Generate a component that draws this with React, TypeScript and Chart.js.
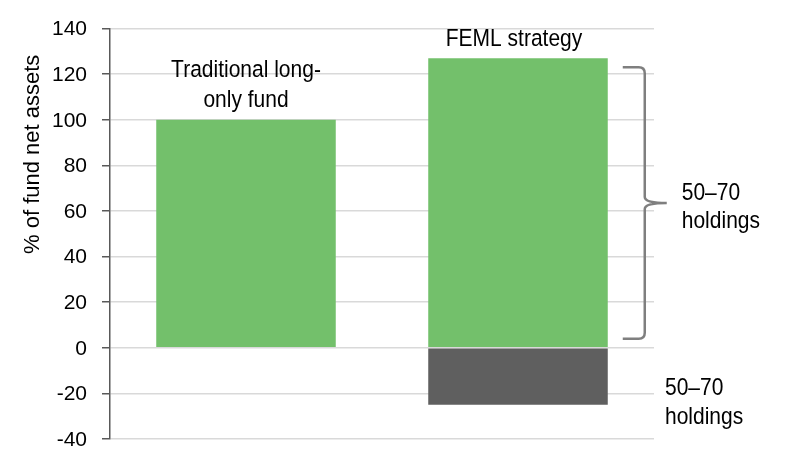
import React, { useEffect, useRef } from 'react';
import { Chart, registerables } from 'chart.js';

Chart.register(...registerables);

// ---- data ----
const categories = ['Traditional long-only fund', 'FEML strategy'];
const categoryLabelLines = [['Traditional long-', 'only fund'], ['FEML strategy']];
const longPositions = [100, 127];
const shortPositions: (number | null)[] = [null, -25];
const yMin = -40;
const yMax = 140;
const yStep = 20;
const axisTitle = '% of fund net assets';
const longNote = ['50–70', 'holdings'];
const shortNote = ['50–70', 'holdings'];
const braceRange = [4, 123];
const longNoteValue = 61.5;
const shortNoteValue = -24;

const FONT = '"Liberation Sans", Arial, sans-serif';
const STRETCH = 1.15;

function stretchedText(ctx: CanvasRenderingContext2D, text: string, x: number, y: number, align: CanvasTextAlign, sy = STRETCH) {
  ctx.save();
  ctx.translate(x, y);
  ctx.scale(1, sy);
  ctx.textAlign = align;
  ctx.textBaseline = 'middle';
  ctx.fillText(text, 0, 0);
  ctx.restore();
}

const annotations = {
  id: 'annotations',
  afterDraw(chart: any) {
    const ctx: CanvasRenderingContext2D = chart.ctx;
    const y = chart.scales.y;
    const area = chart.chartArea;
    ctx.save();
    ctx.fillStyle = '#000';
    ctx.font = `21px ${FONT}`;

    // y tick labels (drawn from the scale's own ticks)
    y.ticks.forEach((t: any) => {
      stretchedText(ctx, String(t.value), area.left - 23, y.getPixelForValue(t.value) + 1, 'right', 1);
    });

    // axis title
    ctx.save();
    ctx.font = `22px ${FONT}`;
    ctx.translate(33, (y.getPixelForValue(yMax) + y.getPixelForValue(yMin)) / 2 - 79.5);
    ctx.rotate(-Math.PI / 2);
    ctx.textAlign = 'center';
    ctx.textBaseline = 'middle';
    ctx.fillText(axisTitle, 0, 0);
    ctx.restore();

    // category labels above bars
    const meta0 = chart.getDatasetMeta(0);
    meta0.data.forEach((bar: any, i: number) => {
      const lines = categoryLabelLines[i];
      const top = bar.y;
      const lh = 30;
      lines.forEach((ln, j) => {
        const cy = top - 19 - (lines.length - 1 - j) * lh;
        stretchedText(ctx, ln, bar.x - (i === 1 ? 4 : 0), cy, 'center');
      });
    });

    // brace
    const bar2 = meta0.data[1];
    const x0 = bar2.x + bar2.width / 2 + 15;
    const xs = x0 + 22;
    const xt = xs + 22;
    const yt = y.getPixelForValue(braceRange[1]);
    const yb = y.getPixelForValue(braceRange[0]);
    const ym = (yt + yb) / 2;
    const r = 6;
    ctx.strokeStyle = '#7f7f7f';
    ctx.lineWidth = 2.5;
    ctx.beginPath();
    ctx.moveTo(x0, yt);
    ctx.lineTo(xs - r, yt);
    ctx.quadraticCurveTo(xs, yt, xs, yt + r);
    ctx.lineTo(xs, ym - r);
    ctx.quadraticCurveTo(xs, ym, xt, ym);
    ctx.moveTo(xt, ym);
    ctx.quadraticCurveTo(xs, ym, xs, ym + r);
    ctx.lineTo(xs, yb - r);
    ctx.quadraticCurveTo(xs, yb, xs - r, yb);
    ctx.lineTo(x0, yb);
    ctx.stroke();

    // notes
    const ly = y.getPixelForValue(longNoteValue);
    longNote.forEach((t, j) => stretchedText(ctx, t, xt + 15, ly - 14 + j * 28, 'left'));
    const sy = y.getPixelForValue(shortNoteValue);
    shortNote.forEach((t, j) => stretchedText(ctx, t, area.right + 11, sy - 14 + j * 29, 'left'));
    ctx.restore();
  },
};

export default function App() {
  const ref = useRef<HTMLCanvasElement>(null);
  useEffect(() => {
    if (!ref.current) return;
    const chart = new Chart(ref.current, {
      type: 'bar',
      data: {
        labels: categories,
        datasets: [
          {
            label: 'Long',
            data: longPositions,
            backgroundColor: '#73c06b',
            barPercentage: 0.66,
            categoryPercentage: 1,
          },
          {
            label: 'Short',
            data: shortPositions as any,
            backgroundColor: '#5f5f5f',
            barPercentage: 0.66,
            categoryPercentage: 1,
          },
        ],
      },
      options: {
        responsive: false,
        animation: false,
        layout: { padding: { top: 24, bottom: 37, right: 146, left: 0 } },
        plugins: { legend: { display: false }, tooltip: { enabled: false } },
        scales: {
          x: { stacked: true, display: false },
          y: {
            stacked: true,
            min: yMin,
            max: yMax,
            ticks: {
              stepSize: yStep,
              color: 'rgba(0,0,0,0)',
              font: { family: FONT, size: 21 },
              padding: 16,
            },
            grid: {
              color: '#d9d9d9',
              lineWidth: 1.5,
              tickLength: 8,
              tickColor: '#595959',
              tickWidth: 1.5,
            },
            border: { color: '#595959', width: 1.5 },
            afterFit: (s: any) => {
              s.width = 110;
            },
          },
        },
      },
      plugins: [annotations],
    });
    return () => chart.destroy();
  }, []);
  return (
    <div style={{ position: 'fixed', left: 0, top: 0, width: 800, height: 476, background: '#fff' }}>
      <canvas ref={ref} width={800} height={476} />
    </div>
  );
}
